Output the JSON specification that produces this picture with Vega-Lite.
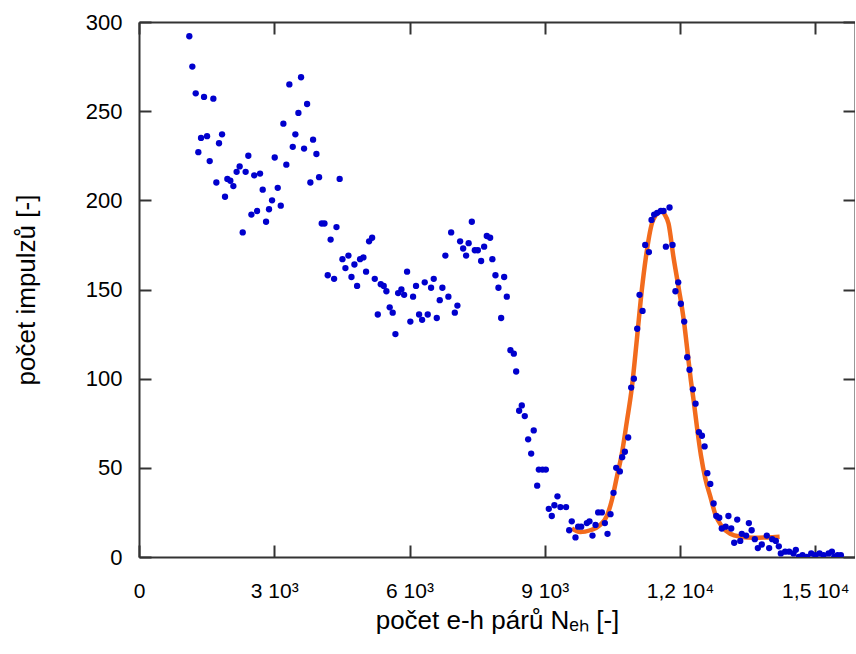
{
  "$schema": "https://vega.github.io/schema/vega-lite/v6.json",
  "width": 716,
  "height": 535,
  "autosize": {"type": "none"},
  "padding": {"left": 139, "top": 22, "right": 0, "bottom": 97},
  "background": "white",
  "config": {
    "view": {"stroke": null},
    "font": "Liberation Sans",
    "axis": {
      "grid": false,
      "domainColor": "#333333",
      "domainWidth": 2,
      "tickColor": "#333333",
      "tickWidth": 2,
      "tickSize": -12,
      "labelFont": "Liberation Sans",
      "titleFont": "Liberation Sans",
      "labelColor": "#000000",
      "titleColor": "#000000",
      "titleFontWeight": "normal"
    }
  },
  "datasets": {
    "pts": [
      {"n": 1116, "c": 292}, {"n": 1183, "c": 275}, {"n": 1258, "c": 260}, {"n": 1442, "c": 258}, {"n": 1649, "c": 257},
      {"n": 1376, "c": 235}, {"n": 1509, "c": 236}, {"n": 1316, "c": 227}, {"n": 1842, "c": 237}, {"n": 1775, "c": 232},
      {"n": 1568, "c": 222}, {"n": 2425, "c": 225}, {"n": 2232, "c": 219}, {"n": 2165, "c": 216}, {"n": 2365, "c": 216},
      {"n": 1716, "c": 210}, {"n": 1960, "c": 212}, {"n": 2026, "c": 211}, {"n": 2093, "c": 208}, {"n": 1908, "c": 202},
      {"n": 2556, "c": 214}, {"n": 2685, "c": 215}, {"n": 2744, "c": 206}, {"n": 3077, "c": 207}, {"n": 2951, "c": 200},
      {"n": 2884, "c": 195}, {"n": 3144, "c": 197}, {"n": 2493, "c": 192}, {"n": 2618, "c": 194}, {"n": 2818, "c": 188},
      {"n": 2300, "c": 182}, {"n": 3010, "c": 224}, {"n": 3268, "c": 220}, {"n": 3202, "c": 243}, {"n": 3335, "c": 265},
      {"n": 3594, "c": 269}, {"n": 3728, "c": 254}, {"n": 3535, "c": 249}, {"n": 3468, "c": 237}, {"n": 3861, "c": 234},
      {"n": 3410, "c": 230}, {"n": 3661, "c": 229}, {"n": 3935, "c": 226}, {"n": 3994, "c": 213}, {"n": 3801, "c": 210},
      {"n": 4450, "c": 212}, {"n": 4053, "c": 187}, {"n": 4113, "c": 187}, {"n": 4380, "c": 185}, {"n": 4250, "c": 178},
      {"n": 5103, "c": 177}, {"n": 5170, "c": 179}, {"n": 4512, "c": 167}, {"n": 4645, "c": 169}, {"n": 4578, "c": 162},
      {"n": 4778, "c": 164}, {"n": 4903, "c": 167}, {"n": 4977, "c": 168}, {"n": 4712, "c": 157}, {"n": 5036, "c": 160},
      {"n": 4186, "c": 158}, {"n": 4327, "c": 156}, {"n": 4837, "c": 152}, {"n": 5229, "c": 156}, {"n": 5362, "c": 153},
      {"n": 5428, "c": 152}, {"n": 5487, "c": 149}, {"n": 5296, "c": 136}, {"n": 5560, "c": 140}, {"n": 5627, "c": 137},
      {"n": 5687, "c": 125}, {"n": 5946, "c": 160}, {"n": 5747, "c": 148}, {"n": 5820, "c": 150}, {"n": 5880, "c": 147},
      {"n": 6079, "c": 146}, {"n": 6144, "c": 152}, {"n": 6337, "c": 154}, {"n": 6537, "c": 156}, {"n": 6478, "c": 151},
      {"n": 6729, "c": 151}, {"n": 6670, "c": 144}, {"n": 6862, "c": 146}, {"n": 6018, "c": 132}, {"n": 6212, "c": 136},
      {"n": 6279, "c": 133}, {"n": 6404, "c": 136}, {"n": 6604, "c": 134}, {"n": 7062, "c": 141}, {"n": 7004, "c": 137},
      {"n": 6795, "c": 169}, {"n": 6923, "c": 182}, {"n": 7382, "c": 188}, {"n": 7122, "c": 177}, {"n": 7311, "c": 176},
      {"n": 7189, "c": 173}, {"n": 7255, "c": 169}, {"n": 7448, "c": 172}, {"n": 7515, "c": 172}, {"n": 7655, "c": 174},
      {"n": 7714, "c": 180}, {"n": 7788, "c": 179}, {"n": 7588, "c": 166}, {"n": 7837, "c": 167}, {"n": 7906, "c": 158},
      {"n": 8099, "c": 157}, {"n": 7972, "c": 151}, {"n": 8158, "c": 146}, {"n": 8032, "c": 134}, {"n": 8238, "c": 116},
      {"n": 8313, "c": 114}, {"n": 8365, "c": 104}, {"n": 8431, "c": 82}, {"n": 8490, "c": 85}, {"n": 8556, "c": 79},
      {"n": 8755, "c": 71}, {"n": 8631, "c": 66}, {"n": 8698, "c": 58}, {"n": 8868, "c": 49}, {"n": 8950, "c": 49},
      {"n": 9023, "c": 49}, {"n": 8831, "c": 40}, {"n": 9281, "c": 34}, {"n": 9089, "c": 27}, {"n": 9213, "c": 29},
      {"n": 9346, "c": 28}, {"n": 9472, "c": 28}, {"n": 9155, "c": 23}, {"n": 9598, "c": 20}, {"n": 9541, "c": 15},
      {"n": 9681, "c": 11}, {"n": 9740, "c": 17}, {"n": 9807, "c": 17}, {"n": 9933, "c": 19}, {"n": 9991, "c": 20},
      {"n": 10125, "c": 18}, {"n": 10058, "c": 12}, {"n": 10184, "c": 25}, {"n": 10266, "c": 25}, {"n": 10332, "c": 19},
      {"n": 10457, "c": 24}, {"n": 10391, "c": 13}, {"n": 10524, "c": 36}, {"n": 10584, "c": 50}, {"n": 10665, "c": 48},
      {"n": 10716, "c": 56}, {"n": 10776, "c": 59}, {"n": 10849, "c": 67}, {"n": 10916, "c": 95}, {"n": 10976, "c": 100},
      {"n": 11050, "c": 128}, {"n": 11101, "c": 147}, {"n": 11168, "c": 138}, {"n": 11367, "c": 189}, {"n": 11426, "c": 192},
      {"n": 11493, "c": 193}, {"n": 11575, "c": 194}, {"n": 11634, "c": 194}, {"n": 11767, "c": 196}, {"n": 11227, "c": 175},
      {"n": 11309, "c": 171}, {"n": 11686, "c": 174}, {"n": 11833, "c": 175}, {"n": 11959, "c": 154}, {"n": 11898, "c": 149},
      {"n": 12017, "c": 142}, {"n": 12092, "c": 132}, {"n": 12159, "c": 112}, {"n": 12210, "c": 105}, {"n": 12285, "c": 94},
      {"n": 12344, "c": 86}, {"n": 12419, "c": 70}, {"n": 12485, "c": 68}, {"n": 12544, "c": 62}, {"n": 12604, "c": 47},
      {"n": 12670, "c": 41}, {"n": 12744, "c": 30}, {"n": 12804, "c": 23}, {"n": 12869, "c": 22}, {"n": 13073, "c": 23},
      {"n": 13268, "c": 21}, {"n": 13526, "c": 19}, {"n": 12925, "c": 16}, {"n": 13011, "c": 17}, {"n": 13135, "c": 16},
      {"n": 13369, "c": 13}, {"n": 13465, "c": 12}, {"n": 13588, "c": 15}, {"n": 13201, "c": 8}, {"n": 13335, "c": 9},
      {"n": 13658, "c": 10}, {"n": 13924, "c": 12}, {"n": 14043, "c": 10}, {"n": 14124, "c": 9}, {"n": 13725, "c": 5},
      {"n": 13813, "c": 7}, {"n": 13976, "c": 5}, {"n": 14190, "c": 6}, {"n": 14235, "c": 2}, {"n": 14330, "c": 3},
      {"n": 14419, "c": 3}, {"n": 14568, "c": 4}, {"n": 14516, "c": 2}, {"n": 14636, "c": 0}, {"n": 14716, "c": 1},
      {"n": 14813, "c": 0}, {"n": 14909, "c": 2}, {"n": 14998, "c": 1}, {"n": 15094, "c": 2}, {"n": 15183, "c": 1},
      {"n": 15294, "c": 2}, {"n": 15368, "c": 3}, {"n": 15420, "c": 0}, {"n": 15494, "c": 1}, {"n": 15567, "c": 1}
    ],
    "fit": [
      {"n": 9600, "c": 16}, {"n": 9785, "c": 14}, {"n": 10007, "c": 15}, {"n": 10229, "c": 18}, {"n": 10377, "c": 23},
      {"n": 10488, "c": 32}, {"n": 10599, "c": 45}, {"n": 10709, "c": 58}, {"n": 10820, "c": 76}, {"n": 10931, "c": 95},
      {"n": 11042, "c": 122}, {"n": 11153, "c": 150}, {"n": 11242, "c": 168}, {"n": 11375, "c": 187}, {"n": 11470, "c": 192},
      {"n": 11582, "c": 194}, {"n": 11660, "c": 192}, {"n": 11744, "c": 187}, {"n": 11855, "c": 168}, {"n": 11975, "c": 150},
      {"n": 12092, "c": 131}, {"n": 12170, "c": 114}, {"n": 12240, "c": 99}, {"n": 12300, "c": 88}, {"n": 12374, "c": 73},
      {"n": 12463, "c": 57}, {"n": 12560, "c": 44}, {"n": 12670, "c": 34}, {"n": 12781, "c": 24}, {"n": 12929, "c": 17},
      {"n": 13114, "c": 13}, {"n": 13336, "c": 11.4}, {"n": 13632, "c": 10.8}, {"n": 13928, "c": 11}, {"n": 14208, "c": 11.4}
    ]
  },
  "resolve": {"axis": {"x": "independent", "y": "independent"}},
  "layer": [
    {
      "data": {"name": "fit"},
      "mark": {"type": "line", "color": "#f26b1d", "strokeWidth": 4.5, "interpolate": "monotone", "clip": true},
      "encoding": {
        "x": {"field": "n", "type": "quantitative",
          "scale": {"domain": [0, 15880], "nice": false, "zero": false},
          "axis": {"orient": "top", "labels": false, "title": null, "values": [0, 3000, 6000, 9000, 12000, 15000]}},
        "y": {"field": "c", "type": "quantitative",
          "scale": {"domain": [0, 300], "nice": false},
          "axis": {"orient": "right", "labels": false, "title": null, "values": [0, 50, 100, 150, 200, 250, 300]}}
      }
    },
    {
      "data": {"name": "pts"},
      "mark": {"type": "circle", "color": "#0000cd", "opacity": 1, "size": 40, "clip": true},
      "encoding": {
        "x": {"field": "n", "type": "quantitative",
          "axis": {"orient": "bottom", "values": [0, 3000, 6000, 9000, 12000, 15000],
            "labelExpr": "datum.value == 0 ? '0' : datum.value == 3000 ? '3 10³' : datum.value == 6000 ? '6 10³' : datum.value == 9000 ? '9 10³' : datum.value == 12000 ? '1,2 10⁴' : '1,5 10⁴'",
            "labelFontSize": 21, "labelPadding": 35, "labelFlush": false,
            "title": "počet e-h párů Nₑₕ [-]", "titleFontSize": 26, "titlePadding": 6}},
        "y": {"field": "c", "type": "quantitative",
          "axis": {"orient": "left", "values": [0, 50, 100, 150, 200, 250, 300],
            "labelFontSize": 22, "labelPadding": 29, "labelFlush": false,
            "title": "počet impulzů [-]", "titleFontSize": 26, "titlePadding": 46}}
      }
    }
  ]
}
